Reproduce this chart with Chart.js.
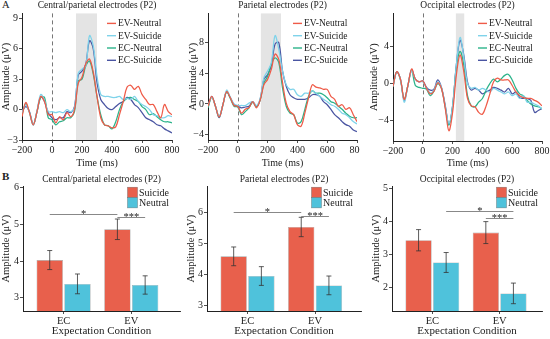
<!DOCTYPE html>
<html>
<head>
<meta charset="utf-8">
<script src="https://cdn.jsdelivr.net/npm/chart.js@4.4.1/dist/chart.umd.min.js"></script>
<style>
  html, body { margin: 0; padding: 0; background: #fff; }
  #fig { position: relative; width: 550px; height: 339px; overflow: hidden; font-family: "Liberation Serif", serif; color: #222; }
  #fig canvas { position: absolute; }
  .tag { position: absolute; line-height: 1; }
</style>
</head>
<body>
<div id="fig">
  <div class="tag" style="left:2px;top:-0.5px;font-size:10.5px">A</div>
  <div class="tag" style="left:2px;top:171px;font-size:11px;font-weight:bold">B</div>
  <canvas id="a1" width="180" height="170" style="left:0;top:0"></canvas>
  <canvas id="a2" width="180" height="170" style="left:180px;top:0"></canvas>
  <canvas id="a3" width="190" height="170" style="left:360px;top:0"></canvas>
  <canvas id="b1" width="182" height="174" style="left:0;top:165px"></canvas>
  <canvas id="b2" width="184" height="174" style="left:180px;top:165px"></canvas>
  <canvas id="b3" width="190" height="174" style="left:360px;top:165px"></canvas>
</div>
<script>
// ---- A: ERP waveforms (µV), sampled every 25 ms ----
const times = [-200, -175, -150, -125, -100, -75, -50, -25, 0, 25, 50, 75, 100, 125, 150, 175, 200, 225, 250, 275,
  300, 325, 350, 375, 400, 425, 450, 475, 500, 525, 550, 575, 600, 625, 650, 675, 700, 725, 750, 775, 800];
const timeTicks = [-200, 0, 200, 400, 600, 800];
const seriesNames = ['EV-Neutral', 'EV-Suicide', 'EC-Neutral', 'EC-Suicide'];

// central/parietal
const a1EVNeutral = [-0.7, 0.7, -0.3, -1.5, -0.2, 1.3, 0.8, -0.5, -0.5, -1.3, -0.7, -1.0, -0.3, -0.7, 0.0, 2.6, 3.2, 4.5, 5.0, 3.7,
  1.3, -0.8, -1.5, -1.6, -1.8, -1.7, -0.5, 0.8, 2.2, 2.4, 2.0, 2.3, 1.5, 1.0, 0.5, 0.5, -0.2, -0.8, 0.5, -0.2, -0.5];
const a1EVSuicide = [-0.3, 0.5, -0.3, -1.5, -0.1, 1.5, 0.9, -0.2, -0.2, -0.3, -0.2, -0.3, 0.0, -0.2, 0.2, 3.6, 4.0, 4.3, 7.3, 6.3,
  3.3, 1.5, 1.3, 1.3, 1.2, 1.2, 1.3, 1.0, 1.1, 1.0, 1.3, 0.8, 0.5, 0.3, 0.0, -0.5, -0.6, -0.8, -0.8, -0.6, -0.7];
const a1ECNeutral = [-0.5, 0.6, -0.3, -1.5, -0.2, 1.2, 1.2, -0.8, -1.0, -1.5, -1.2, -1.1, -0.8, -0.8, -0.2, 2.8, 3.0, 4.3, 4.8, 3.5,
  1.3, -0.5, -1.5, -1.6, -1.9, -1.2, 0.0, 0.8, 1.1, 1.2, 1.0, 0.8, 0.3, 0.0, -0.5, -0.4, -0.7, -1.0, -1.2, -1.2, -1.3];
const a1ECSuicide = [-0.2, 0.3, -0.2, -1.5, -0.2, 1.3, 0.8, -0.3, -0.8, -1.0, -0.8, -0.8, -0.2, -0.3, 0.3, 3.4, 3.8, 4.5, 6.8, 6.0,
  2.7, 1.0, 0.5, 0.1, 0.0, 0.3, 0.6, 0.8, 1.2, 1.0, 0.5, 0.2, -0.3, -0.8, -1.0, -1.2, -1.5, -1.6, -1.9, -2.1, -2.3];

// parietal
const a2EVNeutral = [-0.3, 1.0, -0.3, -1.7, -0.1, 1.6, 0.8, -0.2, -0.3, -1.2, -0.7, -0.5, 0.3, -0.5, 0.5, 2.5, 3.2, 4.5, 6.5, 5.8,
  2.8, 0.1, -1.0, -1.4, -2.7, -2.9, -1.2, 0.8, 2.5, 2.2, 2.1, 1.9, 1.9, 1.0, 0.6, -0.3, -0.1, -0.7, -0.5, -1.4, -2.3];
const a2EVSuicide = [-0.2, 0.9, -0.3, -1.6, -0.1, 1.8, 0.9, 0.0, -0.2, -0.2, -0.2, 0.1, 0.3, -0.2, 0.7, 3.4, 4.3, 5.4, 8.9, 7.1,
  4.3, 2.5, 1.9, 1.9, 1.2, 1.0, 1.4, 1.4, 1.7, 1.4, 1.0, 0.6, 0.3, -0.1, -0.3, -0.7, -1.2, -1.4, -1.8, -2.3, -2.6];
const a2ECNeutral = [-0.5, 0.9, -0.3, -1.7, -0.1, 1.6, 0.7, -0.3, -0.4, -1.4, -1.0, -0.5, 0.2, -0.4, 0.5, 2.7, 3.6, 5.2, 6.0, 5.4,
  2.1, -0.3, -1.2, -1.4, -2.5, -2.3, -0.7, 1.0, 1.7, 1.4, 1.4, 1.2, 0.8, 0.3, 0.1, -0.3, -0.7, -1.2, -1.6, -1.8, -1.8];
const a2ECSuicide = [-0.4, 1.0, -0.3, -1.8, -0.1, 1.6, 0.8, -0.1, -0.3, -0.5, -0.4, -0.3, 0.3, -0.3, 0.6, 3.2, 3.8, 5.0, 7.8, 8.0,
  4.3, 2.3, 1.2, 0.8, 0.6, 0.6, 0.6, 0.8, 1.2, 1.2, 1.0, 0.3, -0.1, -0.7, -1.4, -1.8, -2.3, -2.7, -2.9, -3.4, -3.6];

// occipital
const a3EVNeutral = [-0.3, 1.3, 0.5, -1.7, -0.2, 1.6, 0.5, 0.2, 0.3, -0.5, -1.1, -0.8, 0.1, -0.5, -2.6, -5.1, -3.1, 0.9, 3.1, 1.3,
  -1.6, -2.4, -2.5, -3.1, -3.3, -2.4, -1.1, 0.2, 0.6, 0.4, 0.4, 0.4, -0.2, -0.9, -1.3, -1.5, -1.6, -1.6, -1.8, -2.0, -2.4];
const a3EVSuicide = [-0.3, 1.3, 0.5, -2.0, -0.2, 1.4, 0.5, 0.2, 0.2, -0.5, -1.0, -0.7, 0.2, -0.4, -2.4, -4.3, -2.4, 2.0, 5.0, 2.9,
  0.0, -0.5, -0.4, -0.7, -0.5, -0.7, -0.9, -0.5, -0.7, -0.9, -1.1, -0.9, -1.3, -1.1, -1.6, -1.3, -2.0, -2.0, -2.2, -2.4, -2.7];
const a3ECNeutral = [-0.3, 1.3, 0.4, -1.7, -0.2, 1.4, -0.2, -0.4, -0.5, -0.6, -1.3, -0.8, 0.0, -0.5, -2.5, -4.5, -2.5, 1.7, 3.5, 2.0,
  -1.3, -2.4, -2.5, -2.0, -1.6, -0.7, 0.0, 0.5, 0.2, 0.5, 0.9, 1.0, 0.4, -0.5, -1.1, -1.3, -1.8, -2.2, -2.4, -2.5, -2.7];
const a3ECSuicide = [-0.3, 1.3, 0.5, -1.8, -0.2, 1.5, 0.5, 0.2, 0.3, -0.4, -0.7, -0.6, 0.4, -0.4, -2.3, -4.4, -2.4, 2.0, 4.7, 3.1,
  0.2, -0.7, -0.5, -0.7, -1.1, -0.9, -0.7, -0.4, -0.5, -0.7, -0.9, -0.5, -1.1, -0.9, -1.5, -1.6, -1.6, -1.8, -3.1, -2.9, -2.7];

const a1YTicks = [-3, 0, 3, 6, 9];
const a2YTicks = [-4, 0, 4, 8];
const a3YTicks = [-4, 0, 4];
const a1Window = [160, 300];
const a2Window = [155, 290];
const a3Window = [222, 278];

// ---- B: mean P2 amplitude (µV) with error ----
const conditions = ['EC', 'EV'];
const barNames = ['Suicide', 'Neutral'];
const b1Suicide = [4.03, 4.87], b1Neutral = [3.38, 3.35];
const b1SuicideErr = [0.26, 0.28], b1NeutralErr = [0.27, 0.25];
const b2Suicide = [4.58, 5.52], b2Neutral = [3.95, 3.65];
const b2SuicideErr = [0.30, 0.31], b2NeutralErr = [0.30, 0.30];
const b3Suicide = [3.43, 3.66], b3Neutral = [2.76, 1.83];
const b3SuicideErr = [0.32, 0.33], b3NeutralErr = [0.30, 0.31];
const b1YTicks = [3, 4, 5, 6];
const b2YTicks = [3, 4, 5, 6];
const b3YTicks = [2, 3, 4, 5];
// significance brackets: [dataset, condition] -> [dataset, condition]
const b1Sig = [{from: [0, 0], to: [0, 1], y: 5.30, text: '*'}, {from: [0, 1], to: [1, 1], y: 5.20, text: '***'}];
const b2Sig = [{from: [0, 0], to: [0, 1], y: 6.00, text: '*'}, {from: [0, 1], to: [1, 1], y: 5.87, text: '***'}];
const b3Sig = [{from: [1, 0], to: [1, 1], y: 4.32, text: '*'}, {from: [0, 1], to: [1, 1], y: 4.10, text: '***'}];

// ---- styling ----
const ink = '#222';
const lineColors = ['#ef5b48', '#7fd3ea', '#2bb38a', '#4a55a2'];
const barColors = ['#e8604c', '#4fc2db'];
const font = (size, weight = 'normal') => ({family: 'Liberation Serif', size, weight});
const minus = v => String(v).replace('-', '\u2212');

function axis(dir, s) {
  return {
    type: 'linear',
    min: s.min,
    max: s.max,
    offset: false,
    beginAtZero: false,
    afterBuildTicks: sc => { sc.ticks = s.ticks.map(v => ({value: v})); },
    afterFit: sc => {
      if (dir === 'x') { sc.height = s.size; sc.paddingLeft = 0; sc.paddingRight = 0; }
      else { sc.width = s.size; sc.paddingTop = 0; sc.paddingBottom = 0; }
    },
    grid: {drawOnChartArea: false, drawTicks: true, tickLength: 3, color: ink, lineWidth: 0.8, offset: false},
    border: {display: true, color: ink, width: 1},
    ticks: {font: font(s.tickSize || 10), color: ink, padding: 1, maxRotation: 0, autoSkip: false,
      callback: s.labels ? (v => s.labels[v]) : minus},
    title: {display: true, text: s.title, font: font(s.titleSize || 10), color: ink,
      padding: {top: s.titlePad || 0, bottom: s.titlePad || 0}}
  };
}

// shaded window, onset line, error bars, brackets and an in-plot legend
function decor(d) {
  return {
    id: 'decor',
    beforeDatasetsDraw(chart) {
      const {ctx, chartArea: a, scales: {x}} = chart;
      ctx.save();
      if (d.window) {
        const x0 = x.getPixelForValue(d.window[0]), x1 = x.getPixelForValue(d.window[1]);
        ctx.fillStyle = '#e4e4e4';
        ctx.fillRect(x0, a.top, x1 - x0, a.bottom - a.top);
      }
      if (d.onset !== undefined) {
        const x0 = Math.round(x.getPixelForValue(d.onset)) + 0.5;
        ctx.strokeStyle = '#777';
        ctx.lineWidth = 1;
        ctx.setLineDash([4, 3]);
        ctx.beginPath();
        ctx.moveTo(x0, a.top);
        ctx.lineTo(x0, a.bottom);
        ctx.stroke();
      }
      ctx.restore();
    },
    afterDatasetsDraw(chart) {
      const {ctx, scales: {y}} = chart;
      ctx.save();
      (d.errors || []).forEach((errs, di) => {
        chart.getDatasetMeta(di).data.forEach((bar, i) => {
          const v = chart.data.datasets[di].data[i].y;
          const yt = y.getPixelForValue(v + errs[i]), yb = y.getPixelForValue(v - errs[i]);
          ctx.strokeStyle = '#333';
          ctx.lineWidth = 0.8;
          ctx.beginPath();
          ctx.moveTo(bar.x, yt); ctx.lineTo(bar.x, yb);
          ctx.moveTo(bar.x - 2.5, yt); ctx.lineTo(bar.x + 2.5, yt);
          ctx.moveTo(bar.x - 2.5, yb); ctx.lineTo(bar.x + 2.5, yb);
          ctx.stroke();
        });
      });
      (d.sig || []).forEach(s => {
        const xa = chart.getDatasetMeta(s.from[0]).data[s.from[1]].x;
        const xb = chart.getDatasetMeta(s.to[0]).data[s.to[1]].x;
        const yy = Math.round(y.getPixelForValue(s.y)) + 0.5;
        ctx.strokeStyle = '#888';
        ctx.lineWidth = 1;
        ctx.beginPath();
        ctx.moveTo(xa, yy); ctx.lineTo(xb, yy);
        ctx.stroke();
        ctx.fillStyle = ink;
        ctx.font = '10.5px "Liberation Serif"';
        ctx.textAlign = 'center';
        ctx.textBaseline = 'alphabetic';
        ctx.fillText(s.text, (xa + xb) / 2, yy + 2.5);
      });
      ctx.restore();
    },
    afterDraw(chart) {
      const L = d.legend;
      if (!L) return;
      const {ctx, chartArea: a} = chart;
      ctx.save();
      ctx.font = L.size + 'px "Liberation Serif"';
      ctx.textAlign = 'left';
      ctx.textBaseline = 'middle';
      chart.data.datasets.forEach((ds, i) => {
        const xx = a.left + L.left, yy = a.top + L.top + i * L.row;
        if (L.kind === 'line') {
          ctx.strokeStyle = ds.borderColor;
          ctx.lineWidth = 1.4;
          ctx.beginPath();
          ctx.moveTo(xx, yy); ctx.lineTo(xx + 9, yy);
          ctx.stroke();
        } else {
          ctx.fillStyle = ds.backgroundColor;
          ctx.fillRect(xx, yy - L.row / 2, 10, L.row);
          ctx.strokeStyle = 'rgba(90,90,90,0.6)';
          ctx.lineWidth = 0.6;
          ctx.strokeRect(xx, yy - L.row / 2, 10, L.row);
        }
        ctx.fillStyle = ink;
        ctx.fillText(ds.label, xx + L.gap, yy + 0.5);
      });
      ctx.restore();
    }
  };
}

function timeCourse(id, c) {
  return new Chart(document.getElementById(id), {
    type: 'line',
    data: {
      datasets: seriesNames.map((name, i) => ({
        label: name,
        data: times.map((t, k) => ({x: t, y: c.series[i][k]})),
        borderColor: lineColors[i],
        borderWidth: 1.25,
        pointRadius: 0,
        tension: 0.35,
        fill: false
      }))
    },
    options: {
      responsive: false,
      animation: false,
      events: [],
      layout: {padding: c.pad, autoPadding: false},
      plugins: {
        legend: {display: false},
        tooltip: {enabled: false},
        title: {display: true, text: c.title, fullSize: false, font: font(9.5), color: ink, padding: {top: 0, bottom: 2}}
      },
      scales: {
        x: axis('x', {min: -200, max: 800, ticks: timeTicks, title: 'Time (ms)', size: c.xh, titlePad: 1}),
        y: axis('y', {min: c.y[0], max: c.y[1], ticks: c.yTicks, title: 'Amplitude (\u03bcV)', size: c.yw, titleSize: 10.5})
      }
    },
    plugins: [decor({window: c.window, onset: 0, legend: {kind: 'line', left: 85, top: 10, row: 12.3, gap: 11, size: 9.5}})]
  });
}

function amplitudeBars(id, c) {
  const vals = [c.suicide, c.neutral];
  return new Chart(document.getElementById(id), {
    type: 'bar',
    data: {
      datasets: barNames.map((name, i) => ({
        label: name,
        data: conditions.map((cond, k) => ({x: k, y: vals[i][k]})),
        backgroundColor: barColors[i],
        borderColor: 'rgba(90,90,90,0.55)',
        borderWidth: 0.6,
        barPercentage: 0.95,
        categoryPercentage: 0.82
      }))
    },
    options: {
      responsive: false,
      animation: false,
      events: [],
      layout: {padding: c.pad, autoPadding: false},
      plugins: {
        legend: {display: false},
        tooltip: {enabled: false},
        title: {display: true, text: c.title, fullSize: false, font: font(9.5), color: ink, padding: {top: 0, bottom: 1}}
      },
      scales: {
        x: axis('x', {min: -0.6, max: c.xMax, ticks: [0, 1], labels: conditions, title: 'Expectation Condition',
          size: 28, titleSize: 11, tickSize: 10.5, titlePad: 1.5}),
        y: axis('y', {min: c.y[0], max: c.y[1], ticks: c.yTicks, title: 'Amplitude (\u03bcV)', size: c.yw, titleSize: 10.5})
      }
    },
    plugins: [decor({errors: [c.suicideErr, c.neutralErr], sig: c.sig,
      legend: {kind: 'box', left: 104.5, top: 6, row: 10.3, gap: 11.5, size: 10}})]
  });
}

timeCourse('a1', {title: 'Central/parietal electrodes (P2)', series: [a1EVNeutral, a1EVSuicide, a1ECNeutral, a1ECSuicide],
  y: [-3, 9.5], yTicks: a1YTicks, window: a1Window, pad: {left: 0, right: 8, top: 0, bottom: 0}, yw: 22, xh: 30});
timeCourse('a2', {title: 'Parietal electrodes (P2)', series: [a2EVNeutral, a2EVSuicide, a2ECNeutral, a2ECSuicide],
  y: [-4.7, 11.8], yTicks: a2YTicks, window: a2Window, pad: {left: 7, right: 3, top: 0, bottom: 0}, yw: 21, xh: 30});
timeCourse('a3', {title: 'Occipital electrodes (P2)', series: [a3EVNeutral, a3EVSuicide, a3ECNeutral, a3ECSuicide],
  y: [-6.2, 7.6], yTicks: a3YTicks, window: a3Window, pad: {left: 8, right: 8, top: 0, bottom: 0}, yw: 25, xh: 29});

amplitudeBars('b1', {title: 'Central/parietal electrodes (P2)', suicide: b1Suicide, neutral: b1Neutral,
  suicideErr: b1SuicideErr, neutralErr: b1NeutralErr, sig: b1Sig, y: [2.64, 6.04], yTicks: b1YTicks, xMax: 1.72,
  pad: {left: 0, right: 2, top: 9, bottom: 0}, yw: 23});
amplitudeBars('b2', {title: 'Parietal electrodes (P2)', suicide: b2Suicide, neutral: b2Neutral,
  suicideErr: b2SuicideErr, neutralErr: b2NeutralErr, sig: b2Sig, y: [2.83, 6.82], yTicks: b2YTicks, xMax: 1.68,
  pad: {left: 5, right: 3, top: 9, bottom: 0}, yw: 22});
amplitudeBars('b3', {title: 'Occipital electrodes (P2)', suicide: b3Suicide, neutral: b3Neutral,
  suicideErr: b3SuicideErr, neutralErr: b3NeutralErr, sig: b3Sig, y: [1.30, 5.05], yTicks: b3YTicks, xMax: 1.63,
  pad: {left: 10, right: 8, top: 9, bottom: 0}, yw: 22});
</script>
</body>
</html>
